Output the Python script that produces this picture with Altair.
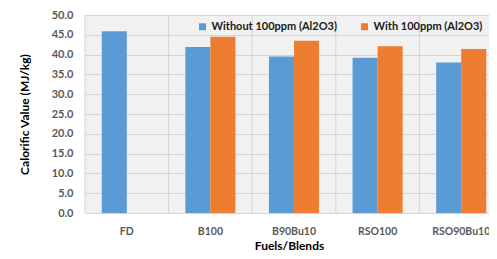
import altair as alt
import pandas as pd

categories = ["FD", "B100", "B90Bu10", "RSO100", "RSO90Bu10"]
series = ["Without 100ppm (Al2O3)", "With 100ppm (Al2O3)"]
without_vals = [45.9, 41.9, 39.5, 39.2, 38.0]
with_vals = [None, 44.5, 43.5, 42.1, 41.4]
colors = ["#5B9BD5", "#ED7D31"]

rows = []
for c, v in zip(categories, without_vals):
    rows.append({"Fuel": c, "Series": series[0], "Value": v})
for c, v in zip(categories, with_vals):
    if v is not None:
        rows.append({"Fuel": c, "Series": series[1], "Value": v})
df = pd.DataFrame(rows)
cat_df = pd.DataFrame({"Fuel": categories})

FONT = "Lato"

xscale = alt.Scale(domain=categories, paddingInner=0, paddingOuter=0, range=[0, 418])
xaxis = alt.Axis(title="Fuels/Blends", labelAngle=0, ticks=False, grid=False,
                 domainColor="#d4d4d4", labelColor="#595959", labelFont=FONT,
                 labelFontSize=10.5, labelFontWeight="bold", labelPadding=13,
                 titleFont=FONT, titleFontSize=12, titleFontWeight="bold",
                 titleColor="#000000", titleX=204, titleY=36,
                 titleBaseline="alphabetic")

grid = alt.Chart(cat_df).mark_rule(color="#d4d4d4", strokeWidth=1).encode(
    x=alt.X("Fuel:N", scale=xscale, bandPosition=0, axis=xaxis, sort=categories)
)

bars = alt.Chart(df).mark_bar().encode(
    x=alt.X("Fuel:N", scale=xscale, sort=categories, axis=xaxis),
    xOffset=alt.XOffset("Series:N", sort=series,
                        scale=alt.Scale(domain=series, paddingInner=0, paddingOuter=0.67)),
    y=alt.Y("Value:Q", scale=alt.Scale(domain=[0, 50]),
            axis=alt.Axis(title="Calorific Value (MJ/kg)", values=list(range(0, 51, 5)),
                          format=".1f", ticks=False, domain=False, gridColor="#d4d4d4",
                          labelColor="#595959", labelFont=FONT, labelFontSize=11,
                          labelFontWeight="bold", labelPadding=12,
                          titleFont=FONT, titleFontSize=12, titleFontWeight="bold",
                          titleColor="#000000", titlePadding=20)),
    color=alt.Color("Series:N", sort=series,
                    scale=alt.Scale(domain=series, range=colors),
                    legend=alt.Legend(title=None, orient="none", legendX=112, legendY=6,
                                      padding=0, direction="horizontal",
                                      symbolType="square", symbolSize=49,
                                      symbolStrokeWidth=0, symbolOffset=0,
                                      labelFont=FONT, labelFontSize=11,
                                      labelFontWeight="bold", labelColor="#1a1a1a",
                                      columnPadding=22, labelOffset=3.5)),
)

chart = alt.layer(grid, bars).properties(
    width=404, height=198,
    background="white",
    autosize=alt.AutoSizeParams(type="none"),
    padding={"left": 77, "top": 7, "right": 0, "bottom": 38},
).configure_view(fill="#f1f1f1", stroke=None)

chart.save("out.html", embed_options={"renderer": "svg", "actions": False})
